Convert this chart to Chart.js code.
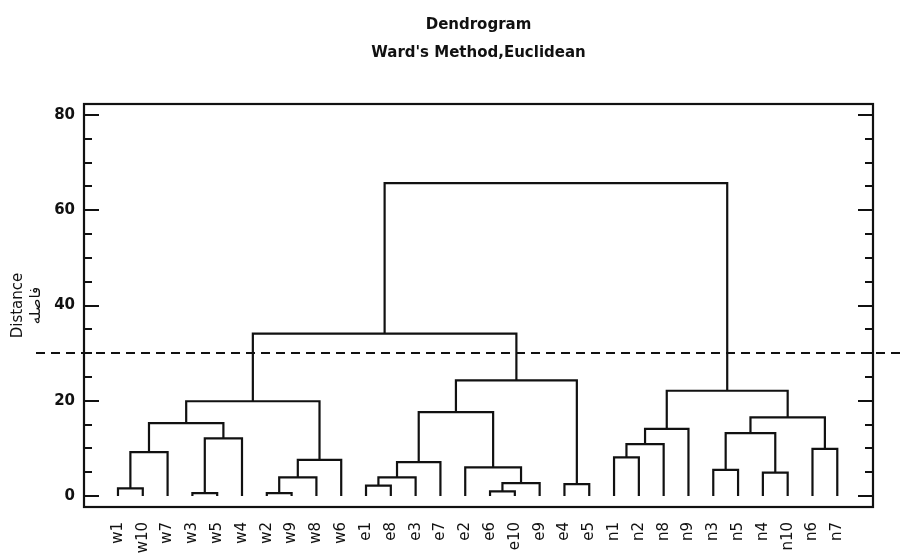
<!DOCTYPE html>
<html>
<head>
<meta charset="utf-8">
<script src="https://cdn.jsdelivr.net/npm/chart.js@4.4.1/dist/chart.umd.min.js"></script>
<style>
  html, body { margin: 0; padding: 0; background: #fff; }
  canvas { display: block; }
</style>
</head>
<body>
<canvas id="dendro" width="904" height="558"></canvas>
<script>
// leaf order along the bottom axis
const leafLabels = ['w1', 'w10', 'w7', 'w3', 'w5', 'w4', 'w2', 'w9', 'w8', 'w6',
                    'e1', 'e8', 'e3', 'e7', 'e2', 'e6', 'e10', 'e9', 'e4', 'e5',
                    'n1', 'n2', 'n8', 'n9', 'n3', 'n5', 'n4', 'n10', 'n6', 'n7'];

// merges: leaves are nodes 0..29, merge k creates node 30 + k
const mergeLeft   = [0, 30, 3, 32, 31, 6, 35, 36, 34, 10, 39, 40, 15, 42, 14, 41, 18, 45, 38, 20, 49, 50, 24, 26, 52, 28, 54, 51, 48];
const mergeRight  = [1, 2, 4, 5, 33, 7, 8, 9, 37, 11, 12, 13, 16, 17, 43, 44, 19, 46, 47, 21, 22, 23, 25, 27, 53, 29, 55, 56, 57];
const mergeHeight = [1.6, 9.2, 0.6, 12.1, 15.3, 0.6, 3.9, 7.6, 19.9, 2.2, 3.9, 7.1, 1.0, 2.7, 6.0, 17.6, 2.5, 24.3, 34.1,
                     8.1, 10.9, 14.1, 5.5, 4.9, 13.2, 9.9, 16.5, 22.1, 65.7];

const yTickValues = [0, 20, 40, 60, 80];
const cutHeight = 30;

const LINE = '#111';

// build the U-shaped links from the merge list
const nodeX = leafLabels.map((_, i) => i);
const nodeH = leafLabels.map(() => 0);
const datasets = [];
mergeHeight.forEach((h, k) => {
    const a = mergeLeft[k], b = mergeRight[k];
    datasets.push({
        data: [
            { x: nodeX[a], y: nodeH[a] },
            { x: nodeX[a], y: h },
            { x: nodeX[b], y: h },
            { x: nodeX[b], y: nodeH[b] }
        ],
        showLine: true,
        borderColor: LINE,
        borderWidth: 2.2,
        pointRadius: 0,
        tension: 0
    });
    nodeX.push((nodeX[a] + nodeX[b]) / 2);
    nodeH.push(h);
});

// frame, inward ticks and the dashed cut line
const framePlugin = {
    id: 'frame',
    afterDraw(chart) {
        const { ctx, chartArea: a, scales: { y } } = chart;
        ctx.save();
        ctx.strokeStyle = LINE;
        ctx.lineWidth = 2.2;
        ctx.strokeRect(a.left, a.top, a.right - a.left, a.bottom - a.top);
        ctx.beginPath();
        for (let v = 0; v <= 80; v += 5) {
            const py = Math.round(y.getPixelForValue(v));
            const len = v % 20 === 0 ? 15 : 8;
            ctx.moveTo(a.left, py);
            ctx.lineTo(a.left + len, py);
            ctx.moveTo(a.right, py);
            ctx.lineTo(a.right - len, py);
        }
        ctx.stroke();
        const cy = Math.round(y.getPixelForValue(cutHeight));
        ctx.lineWidth = 2;
        ctx.setLineDash([9, 6]);
        ctx.beginPath();
        ctx.moveTo(36, cy);
        ctx.lineTo(chart.width, cy);
        ctx.stroke();
        ctx.restore();
    }
};

new Chart(document.getElementById('dendro').getContext('2d'), {
    type: 'scatter',
    data: { datasets: datasets },
    options: {
        responsive: false,
        animation: false,
        layout: { padding: { left: 0, right: 31, top: 0, bottom: 0 } },
        plugins: {
            legend: { display: false },
            tooltip: { enabled: false },
            title: {
                display: true,
                text: 'Dendrogram',
                fullSize: false,
                color: '#111',
                font: { family: 'DejaVu Sans', size: 15, weight: 'bold' },
                padding: { top: 16, bottom: 10 }
            },
            subtitle: {
                display: true,
                text: "Ward's Method,Euclidean",
                fullSize: false,
                color: '#111',
                font: { family: 'DejaVu Sans', size: 15, weight: 'bold' },
                padding: { top: 0, bottom: 42 }
            }
        },
        scales: {
            x: {
                type: 'linear',
                min: -1.37,
                max: 30.44,
                grid: { display: false },
                border: { display: false },
                afterFit: s => { s.height = 51; },
                afterBuildTicks: s => { s.ticks = leafLabels.map((_, i) => ({ value: i })); },
                ticks: {
                    autoSkip: false,
                    minRotation: 90,
                    maxRotation: 90,
                    padding: 7,
                    color: '#111',
                    font: { family: 'DejaVu Sans', size: 15 },
                    callback: v => leafLabels[v]
                }
            },
            y: {
                type: 'linear',
                min: -2.3,
                max: 82.3,
                grid: { display: false, drawTicks: false },
                border: { display: false },
                afterFit: s => { s.width = 84; },
                afterBuildTicks: s => { s.ticks = yTickValues.map(v => ({ value: v })); },
                ticks: {
                    padding: 9,
                    color: '#111',
                    font: { family: 'DejaVu Sans', size: 15, weight: 'bold' }
                },
                title: {
                    display: true,
                    text: ['Distance', 'فاصله'],
                    color: '#111',
                    font: { family: 'DejaVu Sans', size: 15 },
                    padding: { top: 9, bottom: 0 }
                }
            }
        }
    },
    plugins: [framePlugin]
});
</script>
</body>
</html>
